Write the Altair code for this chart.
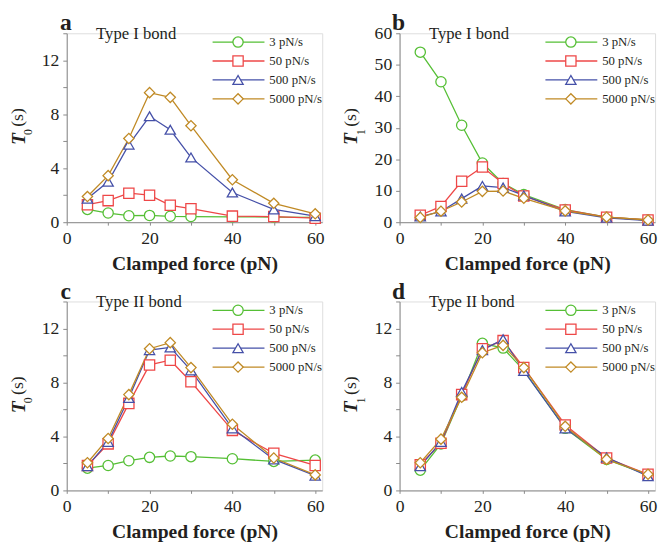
import altair as alt
import pandas as pd

force = [5, 10, 15, 20, 25, 30, 40, 50, 60]
series = ["3 pN/s", "50 pN/s", "500 pN/s", "5000 pN/s"]
colors = ["#55bf35", "#ee4747", "#4550a8", "#c08a25"]
shapes = ["circle", "square", "triangle-up", "diamond"]

# Panel a: T0, Type I bond
a_3 = [0.95, 0.68, 0.48, 0.50, 0.44, 0.42, 0.40, 0.38, 0.35]
a_50 = [1.30, 1.60, 2.15, 2.00, 1.25, 1.00, 0.45, 0.42, 0.30]
a_500 = [1.75, 3.00, 5.75, 7.85, 6.85, 4.80, 2.20, 0.95, 0.45]
a_5000 = [1.90, 3.45, 6.20, 9.60, 9.25, 7.15, 3.15, 1.40, 0.62]
# Panel b: T1, Type I bond
b_3 = [54.0, 44.6, 30.8, 18.8, 12.3, 8.8, 4.0, 1.6, 0.7]
b_50 = [2.2, 5.0, 13.0, 17.5, 12.3, 8.3, 3.9, 1.6, 0.7]
b_500 = [1.8, 3.4, 7.5, 11.5, 11.0, 8.5, 3.4, 1.4, 0.5]
b_5000 = [1.5, 3.5, 6.4, 9.8, 9.9, 7.6, 3.6, 1.6, 0.7]
# Panel c: T0, Type II bond
c_3 = [1.65, 1.85, 2.20, 2.45, 2.55, 2.50, 2.35, 2.15, 2.25]
c_50 = [1.85, 3.45, 6.45, 9.30, 9.65, 8.05, 4.45, 2.75, 1.85]
c_500 = [1.80, 3.60, 6.85, 10.40, 10.60, 8.90, 4.60, 2.30, 1.10]
c_5000 = [2.05, 3.85, 7.10, 10.50, 10.95, 9.10, 4.90, 2.40, 1.15]
# Panel d: T1, Type II bond
d_3 = [1.50, 3.45, 7.00, 10.90, 10.55, 8.90, 4.60, 2.30, 1.15]
d_50 = [1.90, 3.50, 7.10, 10.50, 11.10, 9.10, 4.85, 2.40, 1.20]
d_500 = [1.80, 3.60, 7.30, 10.40, 11.20, 8.85, 4.60, 2.45, 1.05]
d_5000 = [2.05, 3.80, 6.90, 10.20, 10.75, 9.10, 4.75, 2.30, 1.20]

SERIF = "Liberation Serif"
INK = "#231f20"
AX = "#888888"
W, H = 261, 193


def make_df(lists):
    rows = []
    for s, vals in zip(series, lists):
        for f, v in zip(force, vals):
            rows.append({"force": f, "value": v, "series": s})
    return pd.DataFrame(rows)


def panel(lists, ymax, ytick_vals, label_step, sub, bond, letter):
    df = make_df(lists)
    x = alt.X("force:Q", scale=alt.Scale(domain=[0, 61.7], nice=False, zero=False),
              axis=alt.Axis(values=[0, 10, 20, 30, 40, 50, 60],
                            labelExpr="datum.value % 20 == 0 ? datum.label : ''",
                            title="Clamped force (pN)", titleFont=SERIF, titleFontSize=20,
                            titleFontWeight="bold", titleColor=INK, titlePadding=6,
                            labelFont=SERIF, labelFontSize=18, labelColor=INK,
                            labelPadding=5, tickSize=3, tickColor=AX,
                            domainColor=AX, grid=False, labelFlush=False))
    y = alt.Y("value:Q", scale=alt.Scale(domain=[0, ymax], nice=False),
              axis=alt.Axis(values=ytick_vals,
                            labelExpr=f"datum.value % {label_step} == 0 ? datum.label : ''",
                            title=None, labelFont=SERIF, labelFontSize=18, labelColor=INK,
                            labelPadding=4, tickSize=4, tickColor=AX,
                            domainColor=AX, grid=False, labelFlush=False))
    stroke = alt.Stroke("series:N", scale=alt.Scale(domain=series, range=colors), legend=None)
    shape = alt.Shape("series:N", scale=alt.Scale(domain=series, range=shapes), legend=None)

    base = alt.Chart(df)
    lines = base.mark_line(strokeWidth=1.3).encode(x=x, y=y, stroke=stroke, detail="series:N")
    pts = base.mark_point(filled=False, fill="white", fillOpacity=1, opacity=1,
                          strokeWidth=1.3, size=110).encode(
        x=x, y=y, stroke=stroke, shape=shape)
    main = alt.layer(lines, pts)

    leg = alt.Chart(pd.DataFrame({"series": series}))
    ly = alt.Y("series:N", scale=alt.Scale(type="point", domain=series, range=[9, 67], padding=0),
               axis=None)
    leg_rule = leg.mark_rule(strokeWidth=1.3).encode(
        x=alt.value(149), x2=alt.value(202), y=ly, stroke=stroke)
    leg_pt = leg.mark_point(filled=False, fill="white", fillOpacity=1, opacity=1,
                            strokeWidth=1.3, size=110).encode(
        x=alt.value(175), y=ly, stroke=stroke, shape=shape)
    leg_txt = leg.mark_text(align="left", baseline="middle", font=SERIF, fontSize=13,
                            color=INK).encode(x=alt.value(207), y=ly, text="series:N")

    ann = alt.Chart(pd.DataFrame({"t": [bond]}))
    bond_txt = ann.mark_text(align="left", baseline="middle", font=SERIF, fontSize=17,
                             color=INK).encode(x=alt.value(30), y=alt.value(1), text="t:N")
    letter_txt = alt.Chart(pd.DataFrame({"t": [letter]})).mark_text(
        align="center", baseline="alphabetic", font=SERIF, fontSize=24, fontWeight="bold",
        color=INK).encode(x=alt.value(-1), y=alt.value(-3), text="t:N")
    t_txt = alt.Chart(pd.DataFrame({"t": ["T"]})).mark_text(
        align="center", baseline="middle", font=SERIF, fontSize=20, fontWeight="bold",
        fontStyle="italic", angle=270, color=INK).encode(
        x=alt.value(-49), y=alt.value(108), text="t:N")
    sub_txt = alt.Chart(pd.DataFrame({"t": [sub]})).mark_text(
        align="center", baseline="middle", font=SERIF, fontSize=12, angle=270,
        color=INK).encode(x=alt.value(-39), y=alt.value(101), text="t:N")
    s_txt = alt.Chart(pd.DataFrame({"t": ["(s)"]})).mark_text(
        align="center", baseline="middle", font=SERIF, fontSize=18, angle=270,
        color=INK).encode(x=alt.value(-50), y=alt.value(86), text="t:N")

    return alt.layer(main, leg_rule, leg_pt, leg_txt, bond_txt, letter_txt,
                     t_txt, sub_txt, s_txt).resolve_scale(y="independent").properties(
        width=W, height=H)


ticks14 = [0, 2, 4, 6, 8, 10, 12, 14]
ticks60 = [0, 10, 20, 30, 40, 50, 60]
pa = panel([a_3, a_50, a_500, a_5000], 14, ticks14, 4, "0", "Type I bond", "a")
pb = panel([b_3, b_50, b_500, b_5000], 60, ticks60, 10, "1", "Type I bond", "b")
pc = panel([c_3, c_50, c_500, c_5000], 14, ticks14, 4, "0", "Type II bond", "c")
pd_ = panel([d_3, d_50, d_500, d_5000], 14, ticks14, 4, "1", "Type II bond", "d")

chart = alt.vconcat(
    alt.hconcat(pa, pb, spacing=16),
    alt.hconcat(pc, pd_, spacing=16),
    spacing=5,
).properties(padding={"left": 0, "top": -3, "right": 0, "bottom": 0}).configure_view(
    stroke=None).configure(background="white")

chart.save("out.html", embed_options={"renderer": "svg", "actions": False})
